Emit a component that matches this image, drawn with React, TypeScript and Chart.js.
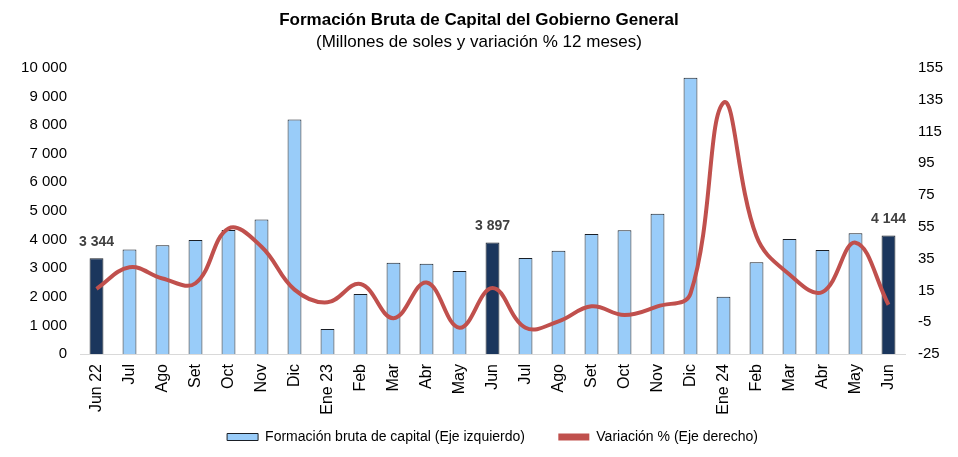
import React, { useEffect, useRef } from 'react';
import { Chart, registerables } from 'chart.js';

Chart.register(...registerables);

const months = [
  'Jun 22', 'Jul', 'Ago', 'Set', 'Oct', 'Nov', 'Dic', 'Ene 23', 'Feb', 'Mar', 'Abr', 'May',
  'Jun', 'Jul', 'Ago', 'Set', 'Oct', 'Nov', 'Dic', 'Ene 24', 'Feb', 'Mar', 'Abr', 'May', 'Jun',
];
// millones de soles
const formacion = [
  3344, 3650, 3800, 3980, 4330, 4700, 8190, 870, 2100, 3190, 3150, 2900,
  3897, 3350, 3610, 4190, 4320, 4900, 9650, 2000, 3210, 4020, 3630, 4220, 4144,
];
// variación % 12 meses
const variacion = [
  16, 29.5, 22.5, 19.5, 54, 42.5, 15.5, 7.5, 19, -2.5, 20, -8.5,
  16.5, -8.5, -4.5, 5, -0.5, 5, 13, 133, 49, 25, 14, 45, 6,
];
const highlighted = [0, 12, 24];

const fmt = (v: number) => String(Math.round(v)).replace(/\B(?=(\d{3})+(?!\d))/g, ' ');

const font = 'Liberation Sans, Arial, sans-serif';

const barLabels = {
  id: 'barLabels',
  afterDatasetsDraw(chart: any) {
    const meta = chart.getDatasetMeta(0);
    const ctx = chart.ctx;
    ctx.save();
    ctx.font = `bold 14px ${font}`;
    ctx.fillStyle = '#404040';
    ctx.textAlign = 'center';
    ctx.textBaseline = 'bottom';
    highlighted.forEach((i) => {
      const bar = meta.data[i];
      ctx.fillText(fmt(formacion[i]), bar.x, bar.y - 9);
    });
    ctx.restore();
  },
};

const App = () => {
  const chartRef = useRef<HTMLCanvasElement>(null);

  useEffect(() => {
    document.body.style.margin = '0';
    if (!chartRef.current) return;
    const chart = new Chart(chartRef.current, {
      type: 'bar',
      data: {
        labels: months,
        datasets: [
          {
            type: 'bar',
            label: 'Formación bruta de capital (Eje izquierdo)',
            data: formacion,
            backgroundColor: formacion.map((_, i) => (highlighted.includes(i) ? '#1B365D' : '#99CCF9')),
            borderColor: '#1a1f26',
            borderWidth: 1,
            barPercentage: 0.84,
            categoryPercentage: 0.5,
            yAxisID: 'y',
            order: 1,
          },
          {
            type: 'line',
            label: 'Variación % (Eje derecho)',
            data: variacion,
            borderColor: '#C0504D',
            backgroundColor: '#C0504D',
            borderWidth: 4,
            pointRadius: 0,
            tension: 0.4,
            yAxisID: 'y1',
            order: 0,
          },
        ],
      },
      options: {
        animation: false,
        responsive: true,
        maintainAspectRatio: false,
        layout: { padding: { top: 0, bottom: 3, left: 0, right: 0 } },
        plugins: {
          title: {
            display: true,
            text: 'Formación Bruta de Capital del Gobierno General',
            color: '#000',
            font: { family: font, size: 17, weight: 'bold' },
            padding: { top: 10, bottom: 2 },
          },
          subtitle: {
            display: true,
            text: '(Millones de soles y variación % 12 meses)',
            color: '#000',
            font: { family: font, size: 17 },
            padding: { top: 0, bottom: 15 },
          },
          legend: {
            position: 'bottom',
            fullSize: false,
            labels: {
              color: '#000',
              font: { family: font, size: 14 },
              boxWidth: 31,
              boxHeight: 7,
              padding: 10,
              sort: (a: any, b: any) => a.datasetIndex - b.datasetIndex,
              generateLabels: (c: any) =>
                c.data.datasets.map((ds: any, i: number) => ({
                  // trailing spaces widen the gap between the two items
                  text: i === 0 ? ds.label + '      ' : ds.label,
                  fillStyle: i === 0 ? '#99CCF9' : '#C0504D',
                  strokeStyle: i === 0 ? '#1a1f26' : '#C0504D',
                  lineWidth: i === 0 ? 1 : 0,
                  datasetIndex: i,
                  fontColor: '#000',
                })),
            },
          },
          tooltip: { enabled: false },
        },
        scales: {
          x: {
            grid: { display: false, drawTicks: false },
            border: { display: true, color: '#d9d9d9', width: 1 },
            ticks: {
              color: '#000',
              font: { family: font, size: 16 },
              maxRotation: 90,
              minRotation: 90,
              autoSkip: false,
              padding: 10,
            },
            afterFit: (s: any) => {
              s.height = 66;
            },
          },
          y: {
            position: 'left',
            min: 0,
            max: 10000,
            grid: { display: false, drawTicks: false },
            border: { display: false },
            ticks: {
              stepSize: 1000,
              color: '#000',
              font: { family: font, size: 15 },
              padding: 13,
              callback: (v: any) => fmt(Number(v)),
            },
            afterFit: (s: any) => {
              s.width = 80;
            },
          },
          y1: {
            position: 'right',
            min: -25,
            max: 155,
            grid: { display: false, drawTicks: false },
            border: { display: false },
            ticks: {
              stepSize: 20,
              color: '#000',
              font: { family: font, size: 15 },
              padding: 13,
            },
            afterFit: (s: any) => {
              s.width = 53;
            },
          },
        },
      },
      plugins: [barLabels],
    });
    return () => {
      chart.destroy();
    };
  }, []);

  return (
    <div style={{ width: 958, height: 457, position: 'relative' }}>
      <canvas ref={chartRef} />
    </div>
  );
};

export default App;
